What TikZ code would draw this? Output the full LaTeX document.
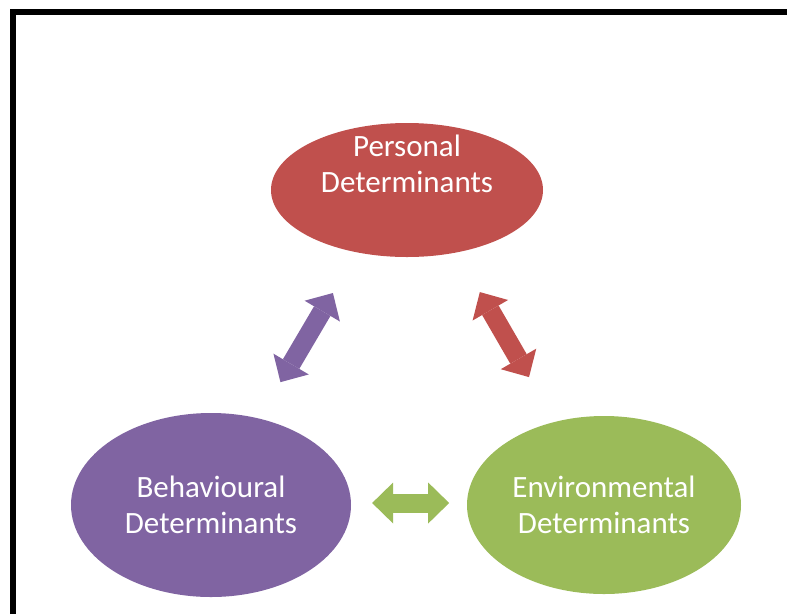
\documentclass[tikz,border=0pt]{standalone}
\usepackage{fontspec}
\setmainfont{Carlito}
\usetikzlibrary{arrows.meta, shapes.geometric, calc}

\definecolor{persred}{HTML}{C0504D}
\definecolor{behpurple}{HTML}{8064A2}
\definecolor{envgreen}{HTML}{9BBB59}

\begin{document}
\begin{tikzpicture}[x=1pt, y=-1pt,
    blob/.style={ellipse, inner sep=0pt, draw=none, text=white, align=center, font=\fontsize{31}{36}\selectfont},
    caption/.style={text=white, align=center, inner sep=0pt, font=\fontsize{31}{36}\selectfont},
    fatarrow/.style={{Triangle[width=41pt, length=21pt, line width=0pt]}-{Triangle[width=41pt, length=21pt, line width=0pt]}, line width=19pt}
]
\useasboundingbox (0,0) rectangle (787,614);

% ==== Frame ====
\draw[line width=6pt] (13,614) -- (13,12) -- (787,12);

% ==== Determinants ====
\node[blob, fill=persred, minimum width=272pt, minimum height=134pt] (personal) at (407,190) {};
\node[caption] (personaltext) at ([yshift=26pt]personal.center) {Personal\\Determinants};
\node[blob, fill=behpurple, minimum width=280pt, minimum height=184pt] (behavioural) at (211,505) {Behavioural\\Determinants};
\node[blob, fill=envgreen, minimum width=274pt, minimum height=178pt] (environmental) at (604,505) {Environmental\\Determinants};

% ==== Two-way arrows ====
\draw[fatarrow, behpurple] ($(behavioural)!0.39!(personal)+(-7,0)$) -- ($(behavioural)!0.673!(personal)+(-10,0)$);
\draw[fatarrow, persred] ($(environmental)!0.406!(personal)+(5,0)$) -- ($(environmental)!0.676!(personal)+(9,0)$);
\draw[fatarrow, envgreen] ($(behavioural)!0.41!(environmental)+(0,-2)$) -- ($(behavioural)!0.606!(environmental)+(0,-2)$);

\end{tikzpicture}
\end{document}
